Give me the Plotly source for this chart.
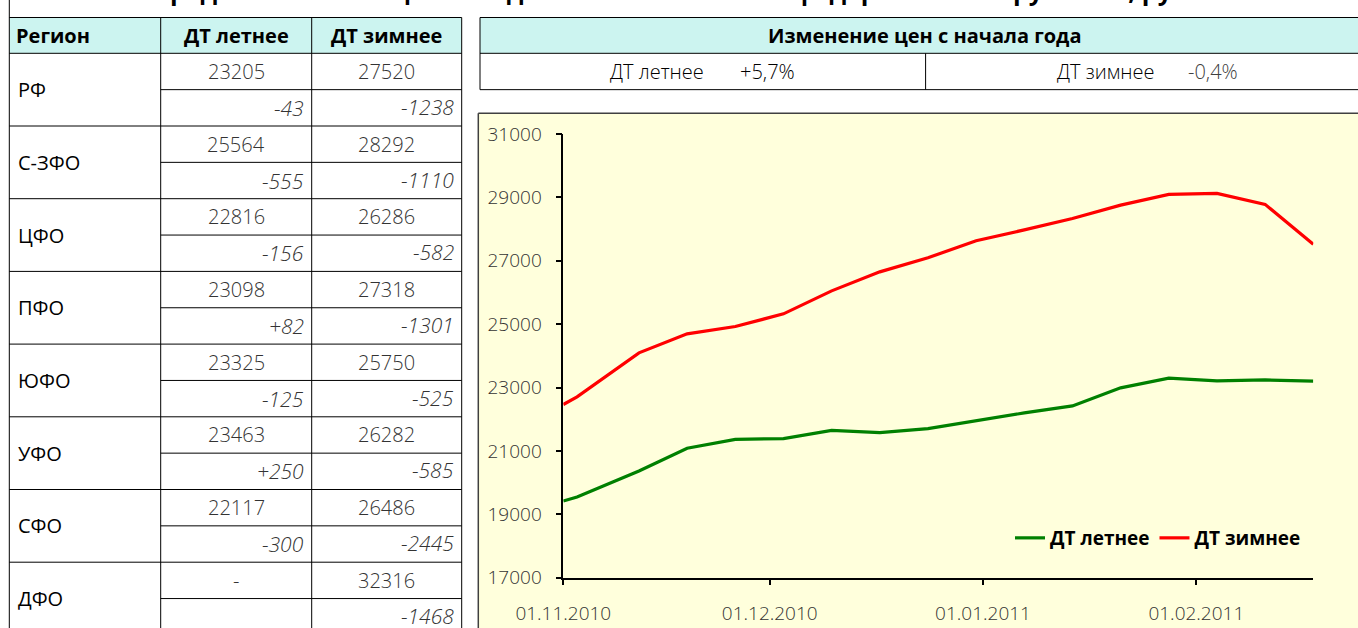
import plotly.graph_objects as go

W, H = 1358, 628

# ---------------- data ----------------
dates = ["2010-11-01", "2010-11-03", "2010-11-12", "2010-11-19", "2010-11-26",
         "2010-12-03", "2010-12-10", "2010-12-17", "2010-12-24", "2010-12-31",
         "2011-01-07", "2011-01-14", "2011-01-21", "2011-01-28", "2011-02-04",
         "2011-02-11", "2011-02-18"]
summer = [19420, 19545, 20365, 21085, 21365, 21390, 21650, 21580, 21705, 21955,
          22200, 22420, 22990, 23295, 23210, 23240, 23205]
winter = [22465, 22705, 24095, 24695, 24925, 25325, 26050, 26650, 27095, 27630,
          27975, 28335, 28755, 29095, 29125, 28780, 27520]

regions = ["РФ", "С-ЗФО", "ЦФО", "ПФО", "ЮФО", "УФО", "СФО", "ДФО"]
summer_price = ["23205", "25564", "22816", "23098", "23325", "23463", "22117", "-"]
summer_change = ["-43", "-555", "-156", "+82", "-125", "+250", "-300", ""]
winter_price = ["27520", "28292", "26286", "27318", "25750", "26282", "26486", "32316"]
winter_change = ["-1238", "-1110", "-582", "-1301", "-525", "-585", "-2445", "-1468"]

table_headers = ["Регион", "ДТ летнее", "ДТ зимнее"]
change_title = "Изменение цен с начала года"
change_labels = ["ДТ летнее", "ДТ зимнее"]
change_values = ["+5,7%", "-0,4%"]
x_tickvals = ["2010-11-01", "2010-12-01", "2011-01-01", "2011-02-01"]
x_ticktext = ["01.11.2010", "01.12.2010", "01.01.2011", "01.02.2011"]
title_text = "Средние оптовые цены на дизельное топливо в федеральных округах РФ, руб/т"

# ---------------- helpers ----------------
def px(x):
    return x / W

def py(y):
    return 1 - y / H

shapes = []
annotations = []

def hline(x0, x1, y, color="black", width=1):
    shapes.append(dict(type="line", xref="paper", yref="paper",
                       x0=px(x0), x1=px(x1), y0=py(y), y1=py(y),
                       line=dict(color=color, width=width)))

def vline(x, y0, y1, color="black", width=1):
    shapes.append(dict(type="line", xref="paper", yref="paper",
                       x0=px(x), x1=px(x), y0=py(y0), y1=py(y1),
                       line=dict(color=color, width=width)))

def rect(x0, y0, x1, y1, fill):
    shapes.append(dict(type="rect", xref="paper", yref="paper", layer="below",
                       x0=px(x0), x1=px(x1), y0=py(y1), y1=py(y0),
                       fillcolor=fill, line=dict(width=0)))

def text(x, y, s, size=19, color="#333333", xanchor="center", bold=False,
         italic=False, weight=None, family="Open Sans"):
    f = dict(family=family, size=size, color=color)
    if bold:
        f["weight"] = "bold"
    elif weight is not None:
        f["weight"] = weight
    if italic:
        f["style"] = "italic"
    annotations.append(dict(xref="paper", yref="paper", x=px(x), y=py(y),
                            text=s, showarrow=False, xanchor=xanchor,
                            yanchor="middle", font=f))

CYAN = "#CCF4F0"
YELLOW = "#FFFFDC"

# ---------------- table geometry ----------------
TX0, TX1, TX2, TX3 = 9.3, 160.7, 311.7, 461.7
HEAD_T, HEAD_B = 17.5, 53.3
ROW_H = 36.35

def rb(k):
    return HEAD_B + ROW_H * k

rect(TX0, HEAD_T, TX3, HEAD_B, CYAN)
vline(TX0, 0, H + 5)
hline(TX0, TX3, HEAD_T)
hline(TX0, TX3, HEAD_B)
for xv in (TX1, TX2, TX3):
    vline(xv, HEAD_T, H + 5)
for k in range(1, 2 * len(regions) + 1):
    if k % 2 == 0:
        hline(TX0, TX3, rb(k))
    else:
        hline(TX1, TX3, rb(k))

hy = (HEAD_T + HEAD_B) / 2
text(14, hy, table_headers[0], size=20, color="black", xanchor="left", bold=True)
text((TX1 + TX2) / 2, hy, table_headers[1], size=20, color="black", bold=True)
text((TX2 + TX3) / 2, hy, table_headers[2], size=20, color="black", bold=True)

for i, reg in enumerate(regions):
    top = rb(2 * i)
    text(16, top + ROW_H, reg, size=20, color="black", xanchor="left")
    text((TX1 + TX2) / 2, top + ROW_H / 2, summer_price[i], size=20, weight=300)
    text((TX2 + TX3) / 2, top + ROW_H / 2, winter_price[i], size=20, weight=300)
    if summer_change[i]:
        text(TX2 - 6, top + ROW_H * 1.5, summer_change[i], size=21, weight=300,
             italic=True, xanchor="right")
    if winter_change[i]:
        text(TX3 - 6, top + ROW_H * 1.5 - 1, winter_change[i], size=21, weight=300,
             italic=True, xanchor="right")

# ---------------- price-change box ----------------
BX0, BXM, BX1 = 480, 925.6, W + 5
rect(BX0, HEAD_T, BX1, HEAD_B, CYAN)
hline(BX0, BX1, HEAD_T)
hline(BX0, BX1, HEAD_B)
hline(BX0, BX1, HEAD_B + ROW_H)
vline(BX0, HEAD_T, HEAD_B + ROW_H)
vline(BXM, HEAD_B, HEAD_B + ROW_H)
text(924, hy, change_title, size=20, color="black", bold=True)
ry = HEAD_B + ROW_H / 2
text(608, ry, change_labels[0], size=20, color="black", xanchor="left", weight=300)
text(738, ry, change_values[0], size=20, color="black", xanchor="left", weight=300)
text(1055, ry, change_labels[1], size=20, color="black", xanchor="left", weight=300)
text(1186, ry, change_values[1], size=20, color="#404040", xanchor="left", weight=300)

# ---------------- chart frame ----------------
rect(478.3, 113.3, W + 5, H + 5, YELLOW)
hline(478.3, W + 5, 113.3, color="#404040", width=1.5)
vline(478.3, 113.3, H + 5, color="#404040", width=1.5)

# ---------------- title (cut off at top, as in the source) ----------------
annotations.append(dict(xref="paper", yref="paper", x=px(683), y=py(9),
                        text=title_text, showarrow=False, xanchor="center",
                        yanchor="bottom",
                        font=dict(family="Open Sans", size=25, color="black",
                                  weight="bold")))

# ---------------- chart ----------------
fig = go.Figure()
fig.add_trace(go.Scatter(x=dates, y=summer, mode="lines", name="ДТ летнее",
                         line=dict(color="#008000", width=3.2)))
fig.add_trace(go.Scatter(x=dates, y=winter, mode="lines", name="ДТ зимнее",
                         line=dict(color="#FF0000", width=3.2)))

PX0, PX1 = 563.3, 1313.3
PY0, PY1 = 134.0, 577.7

fig.update_layout(
    width=W, height=H, autosize=False,
    margin=dict(l=0, r=0, t=0, b=0, pad=0, autoexpand=False),
    paper_bgcolor="white",
    plot_bgcolor="rgba(0,0,0,0)",
    shapes=shapes,
    annotations=annotations,
    showlegend=True,
    legend=dict(orientation="h", x=px(1010), y=py(538), xanchor="left",
                yanchor="middle", bgcolor="rgba(0,0,0,0)", itemwidth=30,
                font=dict(family="Open Sans", size=19, color="black",
                          weight="bold"),
                tracegroupgap=0),
    xaxis=dict(domain=[px(PX0), px(PX1)], type="date", automargin=False,
               range=["2010-11-01", "2011-02-18"],
               tickmode="array", tickvals=x_tickvals, ticktext=x_ticktext,
               showline=True, linecolor="black", linewidth=1.5,
               ticks="outside", ticklen=6, tickwidth=1.5, tickcolor="black",
               showgrid=False, zeroline=False, ticklabelstandoff=12,
               tickfont=dict(family="Open Sans", size=19, color="#333333",
                             weight=300)),
    yaxis=dict(domain=[py(PY1), py(PY0)], range=[17000, 31000], dtick=2000,
               automargin=False,
               tick0=17000, showline=True, linecolor="black", linewidth=1.5,
               ticks="outside", ticklen=6, tickwidth=1.5, tickcolor="black",
               showgrid=False, zeroline=False, ticklabelstandoff=10,
               tickformat="d",
               tickfont=dict(family="Open Sans", size=19, color="#333333",
                             weight=300)),
)

fig.write_html("out.html",
               config={"displayModeBar": False},
               post_script="document.body.style.margin='0px';"
                           "document.body.style.overflow='hidden';")
